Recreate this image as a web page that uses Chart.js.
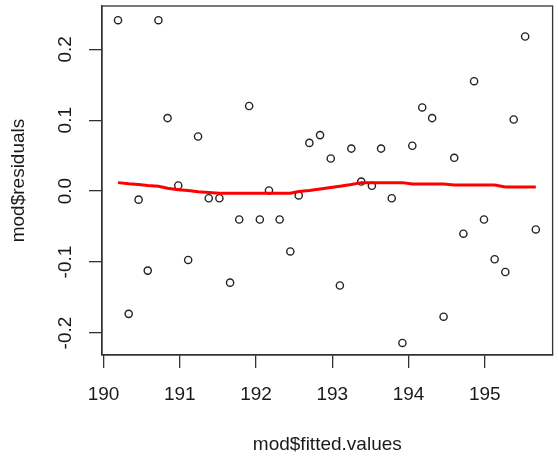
<!DOCTYPE html>
<html>
<head>
<meta charset="utf-8">
<script src="https://cdn.jsdelivr.net/npm/chart.js@4.4.0/dist/chart.umd.min.js"></script>
<style>
html,body{margin:0;padding:0;background:#fff;}
#wrap{width:558px;height:461px;position:relative;}
</style>
</head>
<body>
<div id="wrap"><canvas id="c" width="558" height="461"></canvas></div>
<script>
const fittedValues = [190.19,190.33,190.46,190.58,190.72,190.84,190.98,191.11,191.24,191.38,191.52,191.66,191.78,191.91,192.05,192.17,192.31,192.45,192.56,192.70,192.84,192.98,193.10,193.25,193.38,193.52,193.64,193.78,193.92,194.05,194.18,194.31,194.46,194.60,194.72,194.86,194.99,195.13,195.27,195.38,195.53,195.67];
const residuals = [0.241,-0.173,-0.012,-0.112,0.241,0.103,0.008,-0.097,0.077,-0.010,-0.010,-0.129,-0.040,0.120,-0.040,0.001,-0.040,-0.085,-0.006,0.068,0.079,0.046,-0.133,0.060,0.0135,0.0075,0.060,-0.010,-0.214,0.064,0.118,0.103,-0.177,0.047,-0.060,0.155,-0.040,-0.096,-0.114,0.101,0.218,-0.054];
const lowessFit = [0.012,0.0105,0.0095,0.008,0.0068,0.004,0.002,0.0008,-0.001,-0.002,-0.0028,-0.003,-0.003,-0.003,-0.003,-0.003,-0.003,-0.003,-0.0005,0.001,0.003,0.005,0.007,0.0095,0.012,0.012,0.012,0.012,0.012,0.010,0.010,0.010,0.010,0.0085,0.0085,0.0085,0.0085,0.0085,0.0058,0.0058,0.0058,0.0058];
const xTicks = [190,191,192,193,194,195];
const yTicks = [-0.2,-0.1,0.0,0.1,0.2];
const yTickLabels = ["-0.2","-0.1","0.0","0.1","0.2"];
const xTitle = "mod$fitted.values";
const yTitle = "mod$residuals";

const FONT = "'Liberation Sans', Arial, sans-serif";
const AX = '#333333';

const boxPlugin = {
  id: 'boxPlugin',
  afterDraw(chart) {
    const {ctx, chartArea: a} = chart;
    ctx.save();
    ctx.strokeStyle = AX;
    ctx.lineWidth = 1.3;
    ctx.strokeRect(a.left, a.top, a.right - a.left, a.bottom - a.top);
    // y tick labels, rotated like base R
    const ys = chart.scales.y;
    ctx.fillStyle = '#1a1a1a';
    ctx.font = '19px ' + FONT;
    ctx.textAlign = 'center';
    ctx.textBaseline = 'middle';
    yTicks.forEach((v, i) => {
      const py = ys.getPixelForValue(v);
      ctx.save();
      ctx.translate(66, py);
      ctx.rotate(-Math.PI / 2);
      ctx.fillText(yTickLabels[i], 0, 0);
      ctx.restore();
    });
    ctx.restore();
  }
};

new Chart(document.getElementById('c'), {
  type: 'scatter',
  data: {
    datasets: [
      {
        data: fittedValues.map((x, i) => ({x, y: lowessFit[i]})),
        showLine: true,
        borderColor: '#ff0000',
        borderWidth: 3,
        pointRadius: 0,
        tension: 0,
        order: 1
      },
      {
        data: fittedValues.map((x, i) => ({x, y: residuals[i]})),
        showLine: false,
        pointStyle: 'circle',
        pointRadius: 3.6,
        pointBorderWidth: 1.4,
        pointBorderColor: '#222222',
        pointBackgroundColor: 'rgba(255,255,255,0)',
        order: 2
      }
    ]
  },
  options: {
    responsive: false,
    animation: false,
    events: [],
    layout: {padding: {top: 6, right: -2, left: 0, bottom: 0}},
    plugins: {legend: {display: false}, tooltip: {enabled: false}},
    scales: {
      x: {
        type: 'linear',
        min: 189.98,
        max: 195.89,
        afterBuildTicks(s) { s.ticks = xTicks.map(v => ({value: v})); },
        afterFit(s) { s.height = 106; },
        grid: {drawOnChartArea: false, drawTicks: true, tickLength: 13, color: AX, lineWidth: 1.3},
        border: {display: true, color: AX, width: 1.3},
        ticks: {color: '#1a1a1a', font: {family: FONT, size: 19}, padding: 15, maxRotation: 0, autoSkip: false,
                callback: v => String(v)},
        title: {display: true, text: xTitle, color: '#1a1a1a', font: {family: FONT, size: 19}, padding: {top: 0, bottom: 5}}
      },
      y: {
        type: 'linear',
        min: -0.231,
        max: 0.261,
        afterBuildTicks(s) { s.ticks = yTicks.map(v => ({value: v})); },
        afterFit(s) { s.width = 102; },
        grid: {drawOnChartArea: false, drawTicks: true, tickLength: 13, color: AX, lineWidth: 1.3},
        border: {display: true, color: AX, width: 1.3},
        ticks: {display: false},
        title: {display: true, text: yTitle, color: '#1a1a1a', font: {family: FONT, size: 19}, padding: {top: 7, bottom: 0}}
      }
    }
  },
  plugins: [boxPlugin]
});
</script>
</body>
</html>
